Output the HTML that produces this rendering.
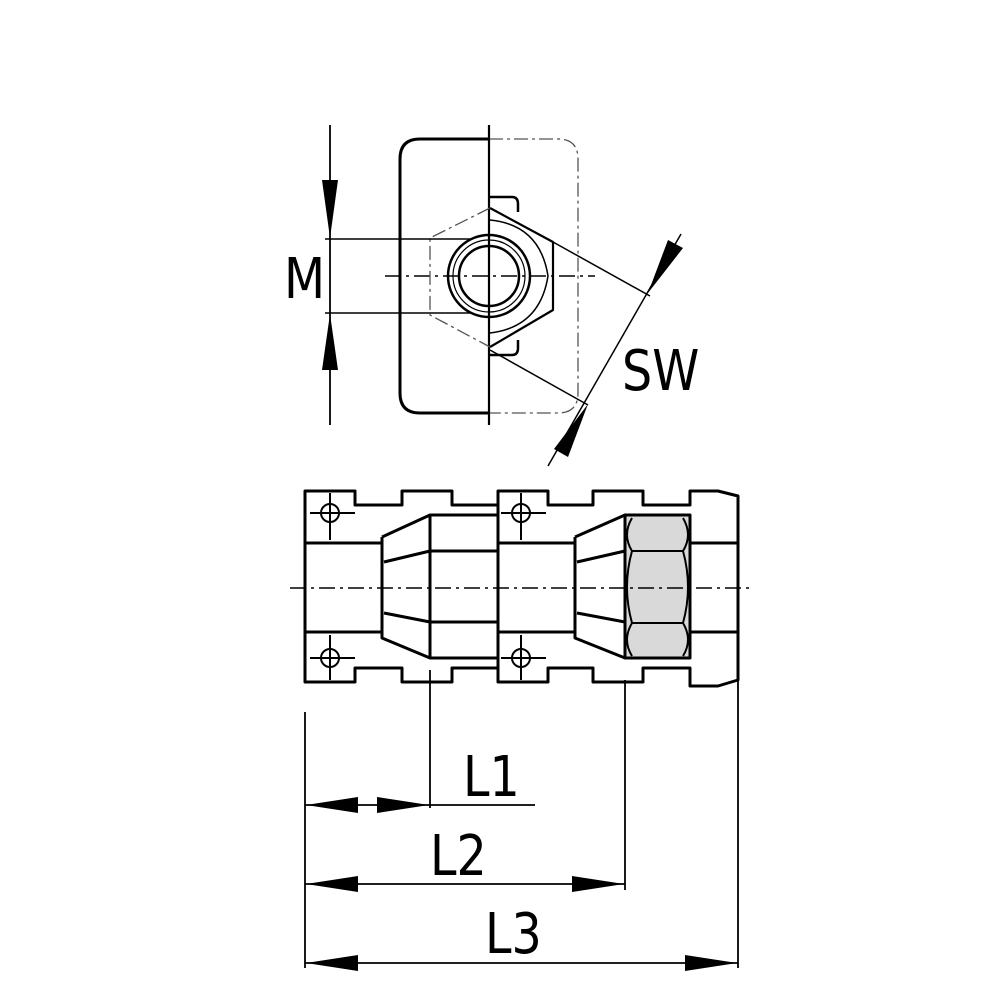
<!DOCTYPE html>
<html><head><style>html,body{margin:0;padding:0;background:#fff}svg{display:block}text{font-family:"DejaVu Sans","Liberation Sans",sans-serif}</style></head>
<body>
<svg width="1000" height="1000" viewBox="0 0 1000 1000" xmlns="http://www.w3.org/2000/svg">
<rect width="1000" height="1000" fill="#fff"/>
<g fill="none" stroke="#000" stroke-linejoin="round">
<path d="M489 139 H420 Q400 139 400 159 V393 Q400 413 420 413 H489" stroke-width="3"/>
<path d="M489 139 H558 Q578 139 578 159 V393 Q578 413 558 413 H489" stroke-width="1.3" stroke="#555" stroke-dasharray="14 4 3 4"/>
<line x1="489" y1="125" x2="489" y2="425" stroke-width="2.2"/>
<line x1="385" y1="276" x2="595" y2="276" stroke-width="1.5" stroke-dasharray="16 5 3 5"/>
<path d="M490 208 L430 238 V315 L490 347" stroke="#555" stroke-width="1.3" stroke-dasharray="14 4 3 4"/>
<path d="M490 208 L553 242 V310 L490 347" stroke-width="2.2"/>
<path d="M490 220 Q540 225 548 276 Q540 327 490 333" stroke-width="1.5"/>
<path d="M490 197 H512 Q518 197 518 204 V212" stroke-width="2.5"/>
<path d="M490 355 H512 Q518 355 518 348 V340" stroke-width="2.5"/>
<circle cx="489" cy="276" r="41" stroke-width="2.5"/>
<circle cx="489" cy="276" r="36" stroke-width="1.2"/>
<circle cx="489" cy="276" r="30" stroke-width="2.5"/>
<line x1="330" y1="125" x2="330" y2="425" stroke-width="1.8"/>
<line x1="325" y1="239" x2="470" y2="239" stroke-width="1.5"/>
<line x1="325" y1="313" x2="470" y2="313" stroke-width="1.5"/>
<line x1="553" y1="242" x2="650" y2="296" stroke-width="1.5"/>
<line x1="490" y1="350" x2="588" y2="405" stroke-width="1.5"/>
<line x1="681" y1="234" x2="548" y2="466" stroke-width="1.5"/>
<path d="M305 491 H355 V505 H402 V491 H452 V505 H498 V491 H548 V505 H593 V491 H643 V505 H690 V491 H718 L738 496 V680 L718 686 H690 V668 H643 V682 H593 V668 H548 V682 H498 V668 H452 V682 H402 V668 H355 V682 H305 Z" stroke-width="3"/>
<path d="M305 543 H382 M305 632 H382 M498 543 H575 M498 632 H575 M690 543 H738 M690 632 H738" stroke-width="3"/>
<path d="M382 537 V638 L430 658 H498 M382 537 L430 515 H498 M430 515 V658 M498 491 V682" stroke-width="3"/>
<path d="M384 562 L430 551 H498 M384 613 L430 622 H498" stroke-width="3"/>
<path d="M575 537 V638 L625 658 M575 537 L625 515" stroke-width="3"/>
<path d="M577 562 L625 551 M577 613 L625 622" stroke-width="3"/>
<rect x="625" y="515" width="65" height="143" fill="#d9d9d9" stroke-width="3"/>
<path d="M632 518 Q622 535 632 551 Q622 587 632 623 Q622 640 632 656 M683 518 Q693 535 683 551 Q693 587 683 623 Q693 640 683 656 M632 551 H683 M632 623 H683" stroke-width="2"/>
<line x1="290" y1="588" x2="752" y2="588" stroke-width="1.5" stroke-dasharray="16 5 3 5"/>
<g stroke-width="2">
<circle cx="330" cy="513" r="9"/><circle cx="330" cy="658" r="9"/><circle cx="521" cy="513" r="9"/><circle cx="521" cy="658" r="9"/>
<path d="M310 513 H355 M330 493 V540 M310 658 H355 M330 635 V680 M501 513 H546 M521 493 V540 M501 658 H546 M521 635 V680"/>
</g>
<g stroke-width="1.8">
<line x1="305" y1="712" x2="305" y2="968"/>
<line x1="430" y1="670" x2="430" y2="808"/>
<line x1="625" y1="680" x2="625" y2="890"/>
<line x1="738" y1="680" x2="738" y2="968"/>
<line x1="305" y1="805" x2="535" y2="805"/>
<line x1="305" y1="884" x2="625" y2="884"/>
<line x1="305" y1="963" x2="738" y2="963"/>
</g>
</g>
<g fill="#000">
<polygon points="330,238 322,180 338,180"/>
<polygon points="330,314 322,370 338,370"/>
<polygon points="648,293 683,248 668,240"/>
<polygon points="588,404 568,457 554,449"/>
<polygon points="306,805 358,797 358,813"/>
<polygon points="429,805 377,797 377,813"/>
<polygon points="306,884 358,876 358,892"/>
<polygon points="624,884 572,876 572,892"/>
<polygon points="306,963 358,955 358,971"/>
<polygon points="737,963 685,955 685,971"/>
</g>
<g font-size="56" fill="#000">
<text x="284" y="298" transform="translate(284 0) scale(0.85 1) translate(-284 0)">M</text>
<text x="622" y="390" transform="translate(622 0) scale(0.85 1) translate(-622 0)">SW</text>
<text x="463" y="796" transform="translate(463 0) scale(0.85 1) translate(-463 0)">L1</text>
<text x="430" y="875" transform="translate(430 0) scale(0.85 1) translate(-430 0)">L2</text>
<text x="485" y="953" transform="translate(485 0) scale(0.85 1) translate(-485 0)">L3</text>
</g>
</svg>
</body></html>
